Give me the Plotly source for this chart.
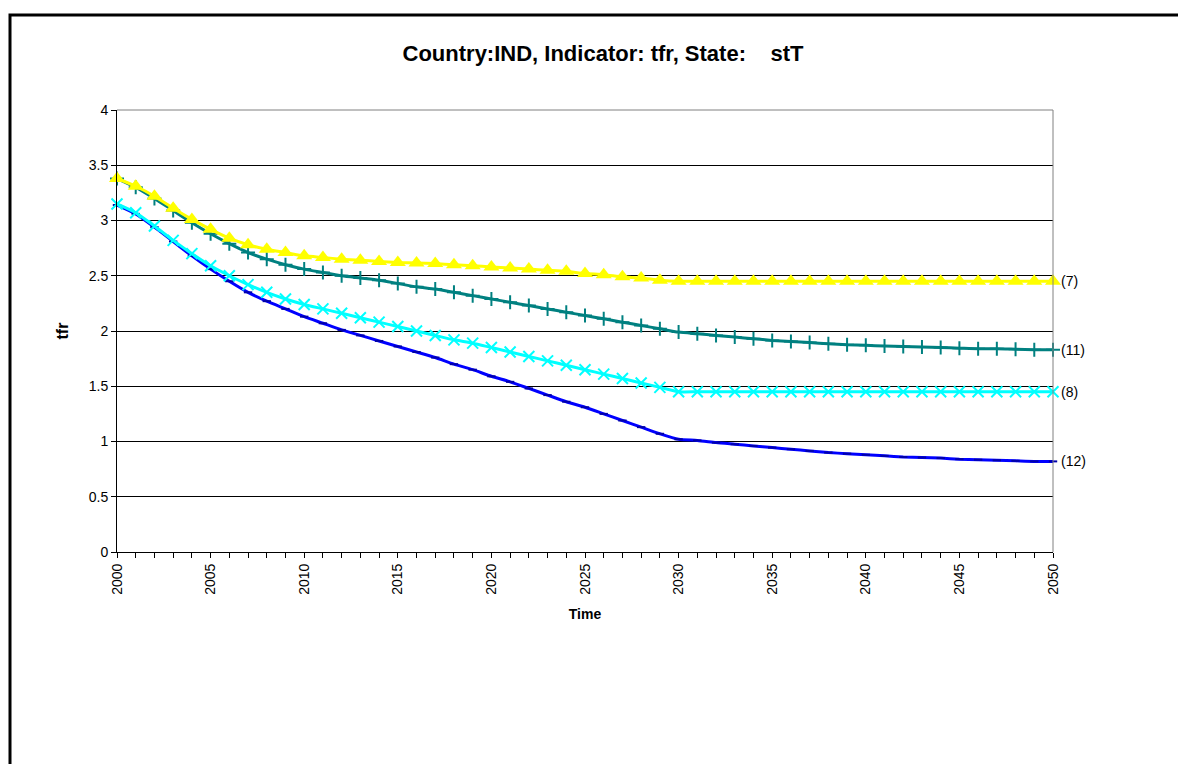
import plotly.graph_objects as go

years = list(range(2000, 2051))

s7 = [3.38, 3.31, 3.22, 3.11, 3.01, 2.92, 2.84, 2.78, 2.74, 2.71, 2.68, 2.665, 2.65, 2.64, 2.63,
      2.62, 2.615, 2.61, 2.60, 2.59, 2.58, 2.57, 2.56, 2.55, 2.54, 2.52, 2.51, 2.49, 2.48, 2.46,
      2.45] + [2.45] * 20

s11 = [3.38, 3.30, 3.20, 3.09, 2.98, 2.88, 2.79, 2.71, 2.65, 2.60, 2.56, 2.53, 2.50, 2.48, 2.46,
       2.43, 2.40, 2.38, 2.35, 2.32, 2.29, 2.26, 2.23, 2.20, 2.17, 2.14, 2.11, 2.08, 2.05, 2.02,
       1.99, 1.975, 1.96, 1.945, 1.93, 1.915, 1.905, 1.895, 1.885, 1.875, 1.87, 1.865, 1.86, 1.855,
       1.85, 1.845, 1.84, 1.84, 1.835, 1.83, 1.83]

s8 = [3.15, 3.07, 2.95, 2.82, 2.70, 2.59, 2.50, 2.42, 2.35, 2.29, 2.24, 2.20, 2.16, 2.12, 2.08,
      2.04, 2.00, 1.96, 1.92, 1.89, 1.85, 1.81, 1.77, 1.73, 1.69, 1.65, 1.61, 1.57, 1.53, 1.49,
      1.45] + [1.45] * 20

s12 = [3.14, 3.06, 2.94, 2.81, 2.68, 2.56, 2.45, 2.35, 2.27, 2.20, 2.13, 2.07, 2.01, 1.96, 1.91,
       1.86, 1.81, 1.76, 1.70, 1.65, 1.59, 1.54, 1.48, 1.42, 1.36, 1.31, 1.25, 1.19, 1.13, 1.07,
       1.02, 1.01, 0.99, 0.975, 0.96, 0.945, 0.93, 0.915, 0.90, 0.89, 0.88, 0.87, 0.86, 0.855,
       0.85, 0.84, 0.835, 0.83, 0.825, 0.82, 0.82]

labels = ["(12)", "(8)", "(11)", "(7)"]
series = [s12, s8, s11, s7]
colors = ["#0000FF", "#00FFFF", "#008080", "#FFFF00"]
symbols = ["line-ew", "x-thin", "cross-thin", "triangle-up"]
msizes = [6, 11, 10, 14]

title = "Country:IND, Indicator: tfr, State:\u00a0\u00a0\u00a0 stT"
xtickvals = years
xticktext = [str(y) if y % 5 == 0 else "" for y in years]
yticks = [0, 0.5, 1, 1.5, 2, 2.5, 3, 3.5, 4]
ymax = 4

fig = go.Figure()
for lab, s, c, sym, ms in zip(labels, series, colors, symbols, msizes):
    if sym == "triangle-up":
        marker = dict(symbol=sym, size=ms, color=c, line=dict(width=0))
    elif sym == "line-ew":
        marker = dict(symbol=sym, size=ms, color="#0000AA", line=dict(width=2, color="#0000AA"))
    else:
        marker = dict(symbol=sym, size=ms, color=c, line=dict(width=2, color=c))
    fig.add_trace(go.Scatter(x=years, y=s, mode="lines+markers", name=lab,
                             line=dict(color=c, width=3, shape="spline", smoothing=0.6),
                             marker=marker, showlegend=False, cliponaxis=False))
    fig.add_annotation(x=years[-1], y=s[-1], text=lab, showarrow=False, xanchor="left",
                       xshift=6, font=dict(size=14, color="#000000"))

fig.update_layout(
    width=1178, height=764,
    margin=dict(l=117, r=125, t=110, b=212),
    paper_bgcolor="white", plot_bgcolor="white",
    font=dict(family="Liberation Sans, Arial, sans-serif", color="#000000"),
    title=dict(text="<b>" + title + "</b>", x=603 / 1178, xanchor="center",
               y=1 - 53 / 764, yanchor="middle", font=dict(size=22)),
)
fig.update_xaxes(range=[2000, 2050], tickvals=xtickvals, ticktext=xticktext, tickangle=-90,
                 ticks="outside", ticklen=5, tickcolor="#000000", showgrid=False,
                 showline=True, linecolor="#000000", linewidth=1, zeroline=False,
                 tickfont=dict(size=14),
                 title=dict(text="<b>Time</b>", font=dict(size=14), standoff=15))
fig.update_yaxes(range=[0, ymax], tickvals=yticks, ticks="outside", ticklen=5, tickcolor="#000000",
                 showgrid=True, gridcolor="#000000", gridwidth=1, showline=True,
                 linecolor="#000000", linewidth=1, zeroline=False, tickfont=dict(size=14),
                 title=dict(text="<b>tfr</b>", font=dict(size=16), standoff=16))
# top gridline and plot area right border (gray)
fig.add_shape(type="line", xref="paper", yref="paper", x0=0, x1=1, y0=1, y1=1,
              line=dict(color="#808080", width=1))
fig.add_shape(type="line", xref="paper", yref="paper", x0=1, x1=1, y0=0, y1=1,
              line=dict(color="#808080", width=1))
# outer chart frame
fig.add_shape(type="rect", xref="paper", yref="paper",
              x0=(10 - 117) / 936, x1=(1185 - 117) / 936,
              y0=(552 - 770) / 442, y1=(552 - 15) / 442,
              line=dict(color="#000000", width=3), layer="above")

fig.write_html("out.html")
